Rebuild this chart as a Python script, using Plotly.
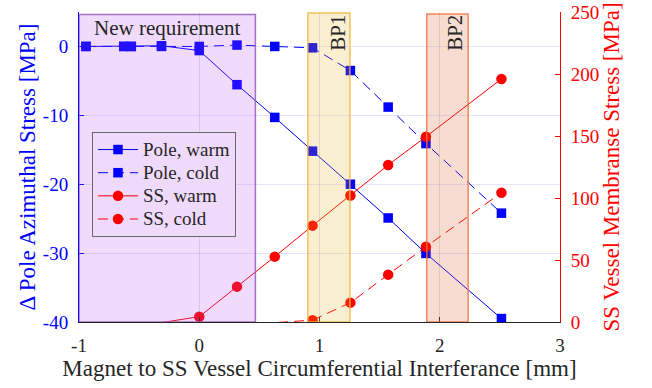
import plotly.graph_objects as go

# Circumferential interference between magnet and SS vessel [mm]
interference = [-0.942, -0.628, -0.565, -0.314, 0.0, 0.314, 0.628, 0.942,
                1.257, 1.571, 1.885, 2.513]

# Change of pole azimuthal stress [MPa] (left axis)
pole_warm = [0.0, 0.0, 0.0, 0.1, -0.6, -5.55, -10.3, -15.2,
             -20.0, -24.9, -30.05, -39.5]
pole_cold = [0.0, 0.0, 0.0, 0.0, 0.0, 0.2, 0.0, -0.2,
             -3.5, -8.8, -14.1, -24.2]

# SS vessel membrane stress [MPa] (right axis)
ss_warm = [-0.5, -0.5, -0.5, -0.5, 4.3, 28.5, 52.7, 77.7,
           102.0, 126.6, 149.4, 196.0]
ss_cold = [-0.5, -0.5, -0.5, -0.5, -0.5, -0.5, -0.5, 1.5,
           15.6, 38.2, 60.7, 104.3]

x_ticks = [-1, 0, 1, 2, 3]
left_ticks = [-40, -30, -20, -10, 0]
right_ticks = [0, 50, 100, 150, 200, 250]

# Highlighted interference windows: (label, x start, x end, top)
req_window = ("New requirement", -1.0, 0.467, 4.65)
bp1_window = ("BP1", 0.903, 1.253, 4.85)
bp2_window = ("BP2", 1.892, 2.236, 4.7)

FONT = "Liberation Serif"
BLUE = "#0000ff"
RED = "#ff0000"
DARK = "#262626"
DASH = "10px,6px"
TICK_SIZE = 19
TITLE_SIZE = 23
NOTE_SIZE = 21
LEGEND_TEXT = 19


def label(v):
    return str(v)


def legend_name(text):
    return f'<span style="font-size:{LEGEND_TEXT}px">{text}</span>'


fig = go.Figure()

fig.add_trace(go.Scatter(
    x=interference, y=pole_warm, name=legend_name("Pole, warm"),
    mode="lines+markers",
    line=dict(color=BLUE, width=1),
    marker=dict(symbol="square", size=9.5, color=BLUE),
))
fig.add_trace(go.Scatter(
    x=interference, y=pole_cold, name=legend_name("Pole, cold"),
    mode="lines+markers",
    line=dict(color=BLUE, width=1, dash=DASH),
    marker=dict(symbol="square", size=9.5, color=BLUE),
))


def add_ss(values, name, dash):
    # below the axis floor only the line is drawn; markers start at the first
    # point that lies inside the axis range
    k = next(i for i, v in enumerate(values) if v >= 0)
    fig.add_trace(go.Scatter(
        x=interference[:k + 1], y=values[:k + 1], mode="lines", yaxis="y2",
        line=dict(color=RED, width=1, dash=dash), showlegend=False,
        legendgroup=name, hoverinfo="skip",
    ))
    fig.add_trace(go.Scatter(
        x=interference[k:], y=values[k:], name=legend_name(name),
        mode="lines+markers", yaxis="y2", legendgroup=name,
        line=dict(color=RED, width=1, dash=dash),
        marker=dict(symbol="circle", size=10.5, color=RED),
    ))


add_ss(ss_warm, "SS, warm", None)
add_ss(ss_cold, "SS, cold", DASH)

# Translucent windows drawn over the data
windows = [
    (req_window, "rgba(178,77,242,0.2)", "rgba(150,90,185,0.85)"),
    (bp1_window, "rgba(237,177,32,0.2)", "rgba(240,185,60,0.85)"),
    (bp2_window, "rgba(217,83,25,0.2)", "rgba(240,110,55,0.8)"),
]
for (text, x0, x1, top), fill, edge in windows:
    fig.add_shape(type="rect", xref="x", yref="y", x0=x0, x1=x1,
                  y0=left_ticks[0], y1=top, fillcolor=fill,
                  line=dict(color=edge, width=1.5), layer="above")

note_font = dict(family=FONT, size=NOTE_SIZE, color=DARK)
fig.add_annotation(x=-0.26, y=2.75, xref="x", yref="y", text=req_window[0],
                   showarrow=False, font=note_font)
fig.add_annotation(x=1.147, y=2.0, xref="x", yref="y", text=bp1_window[0],
                   textangle=-90, showarrow=False, font=note_font)
fig.add_annotation(x=2.12, y=2.0, xref="x", yref="y", text=bp2_window[0],
                   textangle=-90, showarrow=False, font=note_font)

fig.update_layout(
    template="none",
    width=652, height=388, autosize=False,
    margin=dict(l=79, r=92, t=12, b=66, autoexpand=False),
    paper_bgcolor="white", plot_bgcolor="white",
    font=dict(family=FONT, size=TICK_SIZE, color=DARK),
    showlegend=True,
    legend=dict(
        x=0.027, y=0.613, xanchor="left", yanchor="top",
        bgcolor="#f0dafc", bordercolor="#6a6a6a", borderwidth=1,
        font=dict(family=FONT, size=15.5, color=DARK),
        tracegroupgap=0, itemwidth=40,
    ),
    xaxis=dict(
        range=[-1, 3], tickvals=x_ticks, ticktext=[label(v) for v in x_ticks],
        ticks="inside", ticklen=5, tickcolor=DARK, ticklabelstandoff=6,
        showline=True, linecolor=DARK, linewidth=1, mirror=False,
        showgrid=True, gridcolor="rgba(38,38,38,0.12)", gridwidth=1,
        zeroline=False, automargin=False,
        tickfont=dict(family=FONT, size=TICK_SIZE, color=DARK),
        title=dict(text="Magnet to SS Vessel Circumferential Interferance [mm]",
                   font=dict(family=FONT, size=TITLE_SIZE, color=DARK),
                   standoff=2),
    ),
    yaxis=dict(
        range=[-40, 5], tickvals=left_ticks,
        ticktext=[label(v) for v in left_ticks],
        ticks="inside", ticklen=5, tickcolor=BLUE, ticklabelstandoff=6,
        showline=True, linecolor=BLUE, linewidth=1, mirror=False,
        showgrid=True, gridcolor="rgba(0,0,255,0.1)", gridwidth=1,
        zeroline=False, automargin=False,
        tickfont=dict(family=FONT, size=TICK_SIZE, color=BLUE),
        title=dict(text="Δ Pole Azimuthal Stress [MPa]",
                   font=dict(family=FONT, size=TITLE_SIZE, color=BLUE),
                   standoff=0),
    ),
    yaxis2=dict(
        overlaying="y", side="right", anchor="x",
        range=[0, 250], tickvals=right_ticks,
        ticktext=[label(v) for v in right_ticks],
        ticks="inside", ticklen=5, tickcolor=RED, ticklabelstandoff=6,
        showline=True, linecolor=RED, linewidth=1,
        showgrid=False, zeroline=False, automargin=False,
        tickfont=dict(family=FONT, size=TICK_SIZE, color=RED),
        title=dict(text="SS Vessel Membranse Stress [MPa]",
                   font=dict(family=FONT, size=TITLE_SIZE, color=RED),
                   standoff=0),
    ),
)

fig.write_html("out.html")
